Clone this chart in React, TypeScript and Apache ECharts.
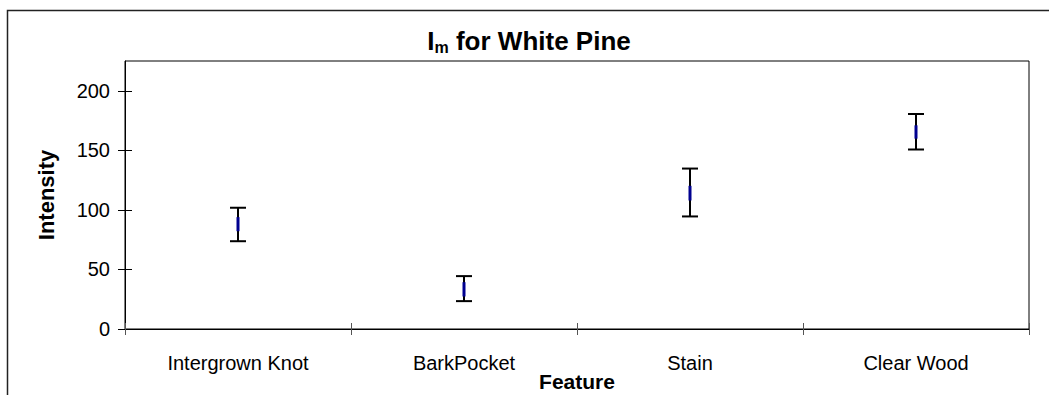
import React, { useEffect, useRef } from "react";
import * as echarts from "echarts";

const categories = ["Intergrown Knot", "BarkPocket", "Stain", "Clear Wood"];
const whiskerLow = [73.7, 23.4, 94.5, 150.7];
const whiskerHigh = [101.8, 44.4, 134.7, 180.5];
const boxLow = [82.1, 27.3, 107.9, 159.8];
const boxHigh = [93.9, 39.3, 120.2, 171.0];
const yTicks = [0, 50, 100, 150, 200];
const xAxisTitle = "Feature";
const yAxisTitle = "Intensity";

const FONT = "'Liberation Sans', Arial, sans-serif";

export default function App() {
  const ref = useRef<HTMLDivElement>(null);
  useEffect(() => {
    document.body.style.margin = "0";
    const chart = echarts.init(ref.current!, null, { renderer: "svg" });
    const data = categories.map((_, i) => [i, whiskerLow[i], whiskerHigh[i], boxLow[i], boxHigh[i]]);
    chart.setOption({
      animation: false,
      backgroundColor: "#fff",
      textStyle: { fontFamily: FONT, color: "#000" },
      title: {
        text: "{a|I}{b|m}{a| for White Pine}",
        left: 524,
        textAlign: "center",
        top: 22,
        textStyle: {
          rich: {
            a: { fontFamily: FONT, fontWeight: "bold", fontSize: 26, color: "#000" },
            b: { fontFamily: FONT, fontWeight: "bold", fontSize: 16, color: "#000", padding: [12, 0, 0, 0] },
          },
        },
      },
      grid: {
        left: 125,
        top: 61,
        right: 20,
        bottom: 66,
        containLabel: false,
        outerBoundsMode: "none",
        show: true,
        borderColor: "#000",
        borderWidth: 1,
        backgroundColor: "#fff",
      },
      graphic: [
        {
          type: "rect",
          shape: { x: 7.5, y: 10.5, width: 1100, height: 500 },
          style: { fill: "none", stroke: "#222", lineWidth: 1.5 },
          silent: true,
          z: -10,
        },
        {
          type: "text",
          x: 577,
          y: 381,
          style: {
            text: xAxisTitle,
            fontFamily: FONT,
            fontWeight: "bold",
            fontSize: 21,
            fill: "#000",
            align: "center",
            verticalAlign: "middle",
          },
        },
      ],
      xAxis: [
        {
          type: "category",
          data: categories,
          position: "bottom",
          axisLine: { show: true, lineStyle: { color: "#000", width: 1 } },
          axisTick: { show: true, length: 6, lineStyle: { color: "#555" } },
          axisLabel: { fontFamily: FONT, fontSize: 20, color: "#000", margin: 24 },
          splitLine: { show: false },
        },
        {
          type: "category",
          data: categories,
          position: "bottom",
          axisLine: { show: false },
          axisTick: { show: true, inside: true, length: 6, lineStyle: { color: "#555" } },
          axisLabel: { show: false },
          splitLine: { show: false },
        },
      ],
      yAxis: [
        {
          type: "value",
          min: 0,
          max: 225,
          interval: 50,
          axisLine: { show: true, lineStyle: { color: "#000", width: 1 } },
          axisTick: { show: true, length: 7, customValues: yTicks, lineStyle: { color: "#000" } },
          axisLabel: { fontFamily: FONT, fontSize: 20, color: "#000", margin: 15, customValues: yTicks },
          splitLine: { show: false },
          name: yAxisTitle,
          nameLocation: "middle",
          nameGap: 68,
          nameTextStyle: { fontFamily: FONT, fontWeight: "bold", fontSize: 22, color: "#000" },
        },
        {
          type: "value",
          min: 0,
          max: 225,
          interval: 50,
          axisLine: { show: false },
          axisTick: { show: true, inside: true, length: 7, customValues: yTicks, lineStyle: { color: "#000" } },
          axisLabel: { show: false },
          splitLine: { show: false },
          position: "left",
        },
      ],
      series: [
        {
          type: "custom",
          xAxisIndex: 0,
          yAxisIndex: 0,
          encode: { x: 0, y: [1, 2, 3, 4] },
          data,
          renderItem: (params: any, api: any) => {
            const i = api.value(0);
            const lo = api.coord([i, api.value(1)]);
            const hi = api.coord([i, api.value(2)]);
            const bl = api.coord([i, api.value(3)]);
            const bh = api.coord([i, api.value(4)]);
            const cap = 8;
            const blk = { stroke: "#000", lineWidth: 2 };
            return {
              type: "group",
              children: [
                { type: "line", shape: { x1: lo[0], y1: lo[1], x2: hi[0], y2: hi[1] }, style: blk },
                { type: "line", shape: { x1: lo[0] - cap, y1: lo[1], x2: lo[0] + cap, y2: lo[1] }, style: blk },
                { type: "line", shape: { x1: hi[0] - cap, y1: hi[1], x2: hi[0] + cap, y2: hi[1] }, style: blk },
                {
                  type: "line",
                  shape: { x1: bl[0], y1: bl[1], x2: bh[0], y2: bh[1] },
                  style: { stroke: "#000090", lineWidth: 3 },
                },
              ],
            };
          },
        },
      ],
    });
    return () => chart.dispose();
  }, []);
  return <div ref={ref} style={{ width: 1049, height: 395, position: "absolute", left: 0, top: 0 }} />;
}
